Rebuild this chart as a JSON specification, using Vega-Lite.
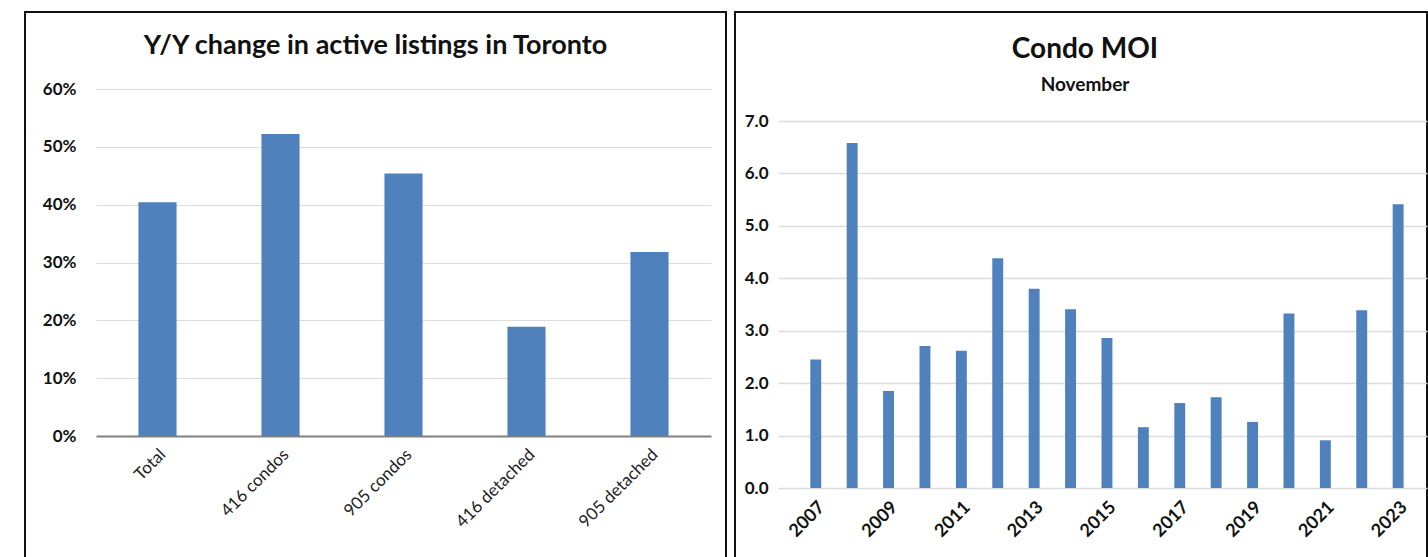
{
  "$schema": "https://vega.github.io/schema/vega-lite/v6.json",
  "padding": {"left": 24, "top": 11, "right": 0, "bottom": 0},
  "background": "white",
  "spacing": 7,
  "config": {
    "view": {"stroke": "#111", "strokeWidth": 2},
    "font": "Lato"
  },
  "hconcat": [
    {
      "width": 701,
      "height": 546,
      "title": {"text": "Y/Y change in active listings in Toronto", "fontSize": 27, "font": "Lato", "fontWeight": "bold", "color": "#111", "anchor": "middle", "frame": "group", "baseline": "top", "offset": -48},
      "data": {"values": [
        {"category": "Total", "change": 0.404},
        {"category": "416 condos", "change": 0.522},
        {"category": "905 condos", "change": 0.454},
        {"category": "416 detached", "change": 0.189},
        {"category": "905 detached", "change": 0.318}
      ]},
      "mark": {"type": "bar", "color": "#4F81BD"},
      "encoding": {
        "x": {"field": "category", "type": "nominal", "sort": null,
          "scale": {"range": [71, 686], "paddingInner": 0.69, "paddingOuter": 0.345},
          "axis": {"title": null, "labelAngle": -45, "domain": false, "ticks": false, "tickSize": 0, "labelFontSize": 17, "labelColor": "#222", "labelPadding": 10, "offset": -122}},
        "y": {"field": "change", "type": "quantitative",
          "scale": {"domain": [0, 0.6], "range": [424, 77], "nice": false, "zero": true},
          "axis": {"title": null, "format": ".0%", "values": [0, 0.1, 0.2, 0.3, 0.4, 0.5, 0.6], "domain": false, "ticks": false, "tickSize": 0, "labelFontWeight": "bold", "labelFontSize": 17, "labelColor": "#111", "offset": -55, "labelPadding": 4, "grid": true,
            "gridColor": {"condition": {"test": "datum.value === 0", "value": "#808080"}, "value": "#dcdcdc"},
            "gridWidth": {"condition": {"test": "datum.value === 0", "value": 2}, "value": 1}}}
      }
    },
    {
      "width": 692,
      "height": 546,
      "title": {"text": "Condo MOI", "subtitle": "November", "fontSize": 28, "font": "Lato", "fontWeight": "bold", "color": "#111", "subtitleFont": "Lato", "subtitleFontSize": 19, "subtitleFontWeight": "bold", "subtitleColor": "#111", "subtitlePadding": 12, "anchor": "middle", "frame": "group", "baseline": "top", "offset": -83, "dx": 4},
      "data": {"values": [
        {"year": "2007", "moi": 2.45},
        {"year": "2008", "moi": 6.58},
        {"year": "2009", "moi": 1.85},
        {"year": "2010", "moi": 2.71},
        {"year": "2011", "moi": 2.62},
        {"year": "2012", "moi": 4.38},
        {"year": "2013", "moi": 3.80},
        {"year": "2014", "moi": 3.41},
        {"year": "2015", "moi": 2.86},
        {"year": "2016", "moi": 1.16},
        {"year": "2017", "moi": 1.62},
        {"year": "2018", "moi": 1.73},
        {"year": "2019", "moi": 1.26},
        {"year": "2020", "moi": 3.33},
        {"year": "2021", "moi": 0.91},
        {"year": "2022", "moi": 3.39},
        {"year": "2023", "moi": 5.41}
      ]},
      "mark": {"type": "bar", "color": "#4F81BD"},
      "encoding": {
        "x": {"field": "year", "type": "nominal", "sort": null,
          "scale": {"range": [43, 692], "paddingInner": 0.7, "paddingOuter": 0.765, "align": 0.58},
          "axis": {"title": null, "labelAngle": -45, "domain": false, "ticks": false, "tickSize": 0, "labelFontSize": 18, "labelFontWeight": "bold", "labelColor": "#111", "labelPadding": 10, "offset": -70,
            "values": ["2007", "2009", "2011", "2013", "2015", "2017", "2019", "2021", "2023"]}},
        "y": {"field": "moi", "type": "quantitative",
          "scale": {"domain": [0, 7], "range": [476, 109], "nice": false, "zero": true},
          "axis": {"title": null, "format": ".1f", "values": [0, 1, 2, 3, 4, 5, 6, 7], "domain": false, "ticks": false, "tickSize": 0, "labelFontWeight": "bold", "labelFontSize": 17, "labelColor": "#111", "offset": -37, "labelPadding": 4, "grid": true, "gridColor": "#dcdcdc", "gridWidth": 1.5}}
      }
    }
  ]
}
